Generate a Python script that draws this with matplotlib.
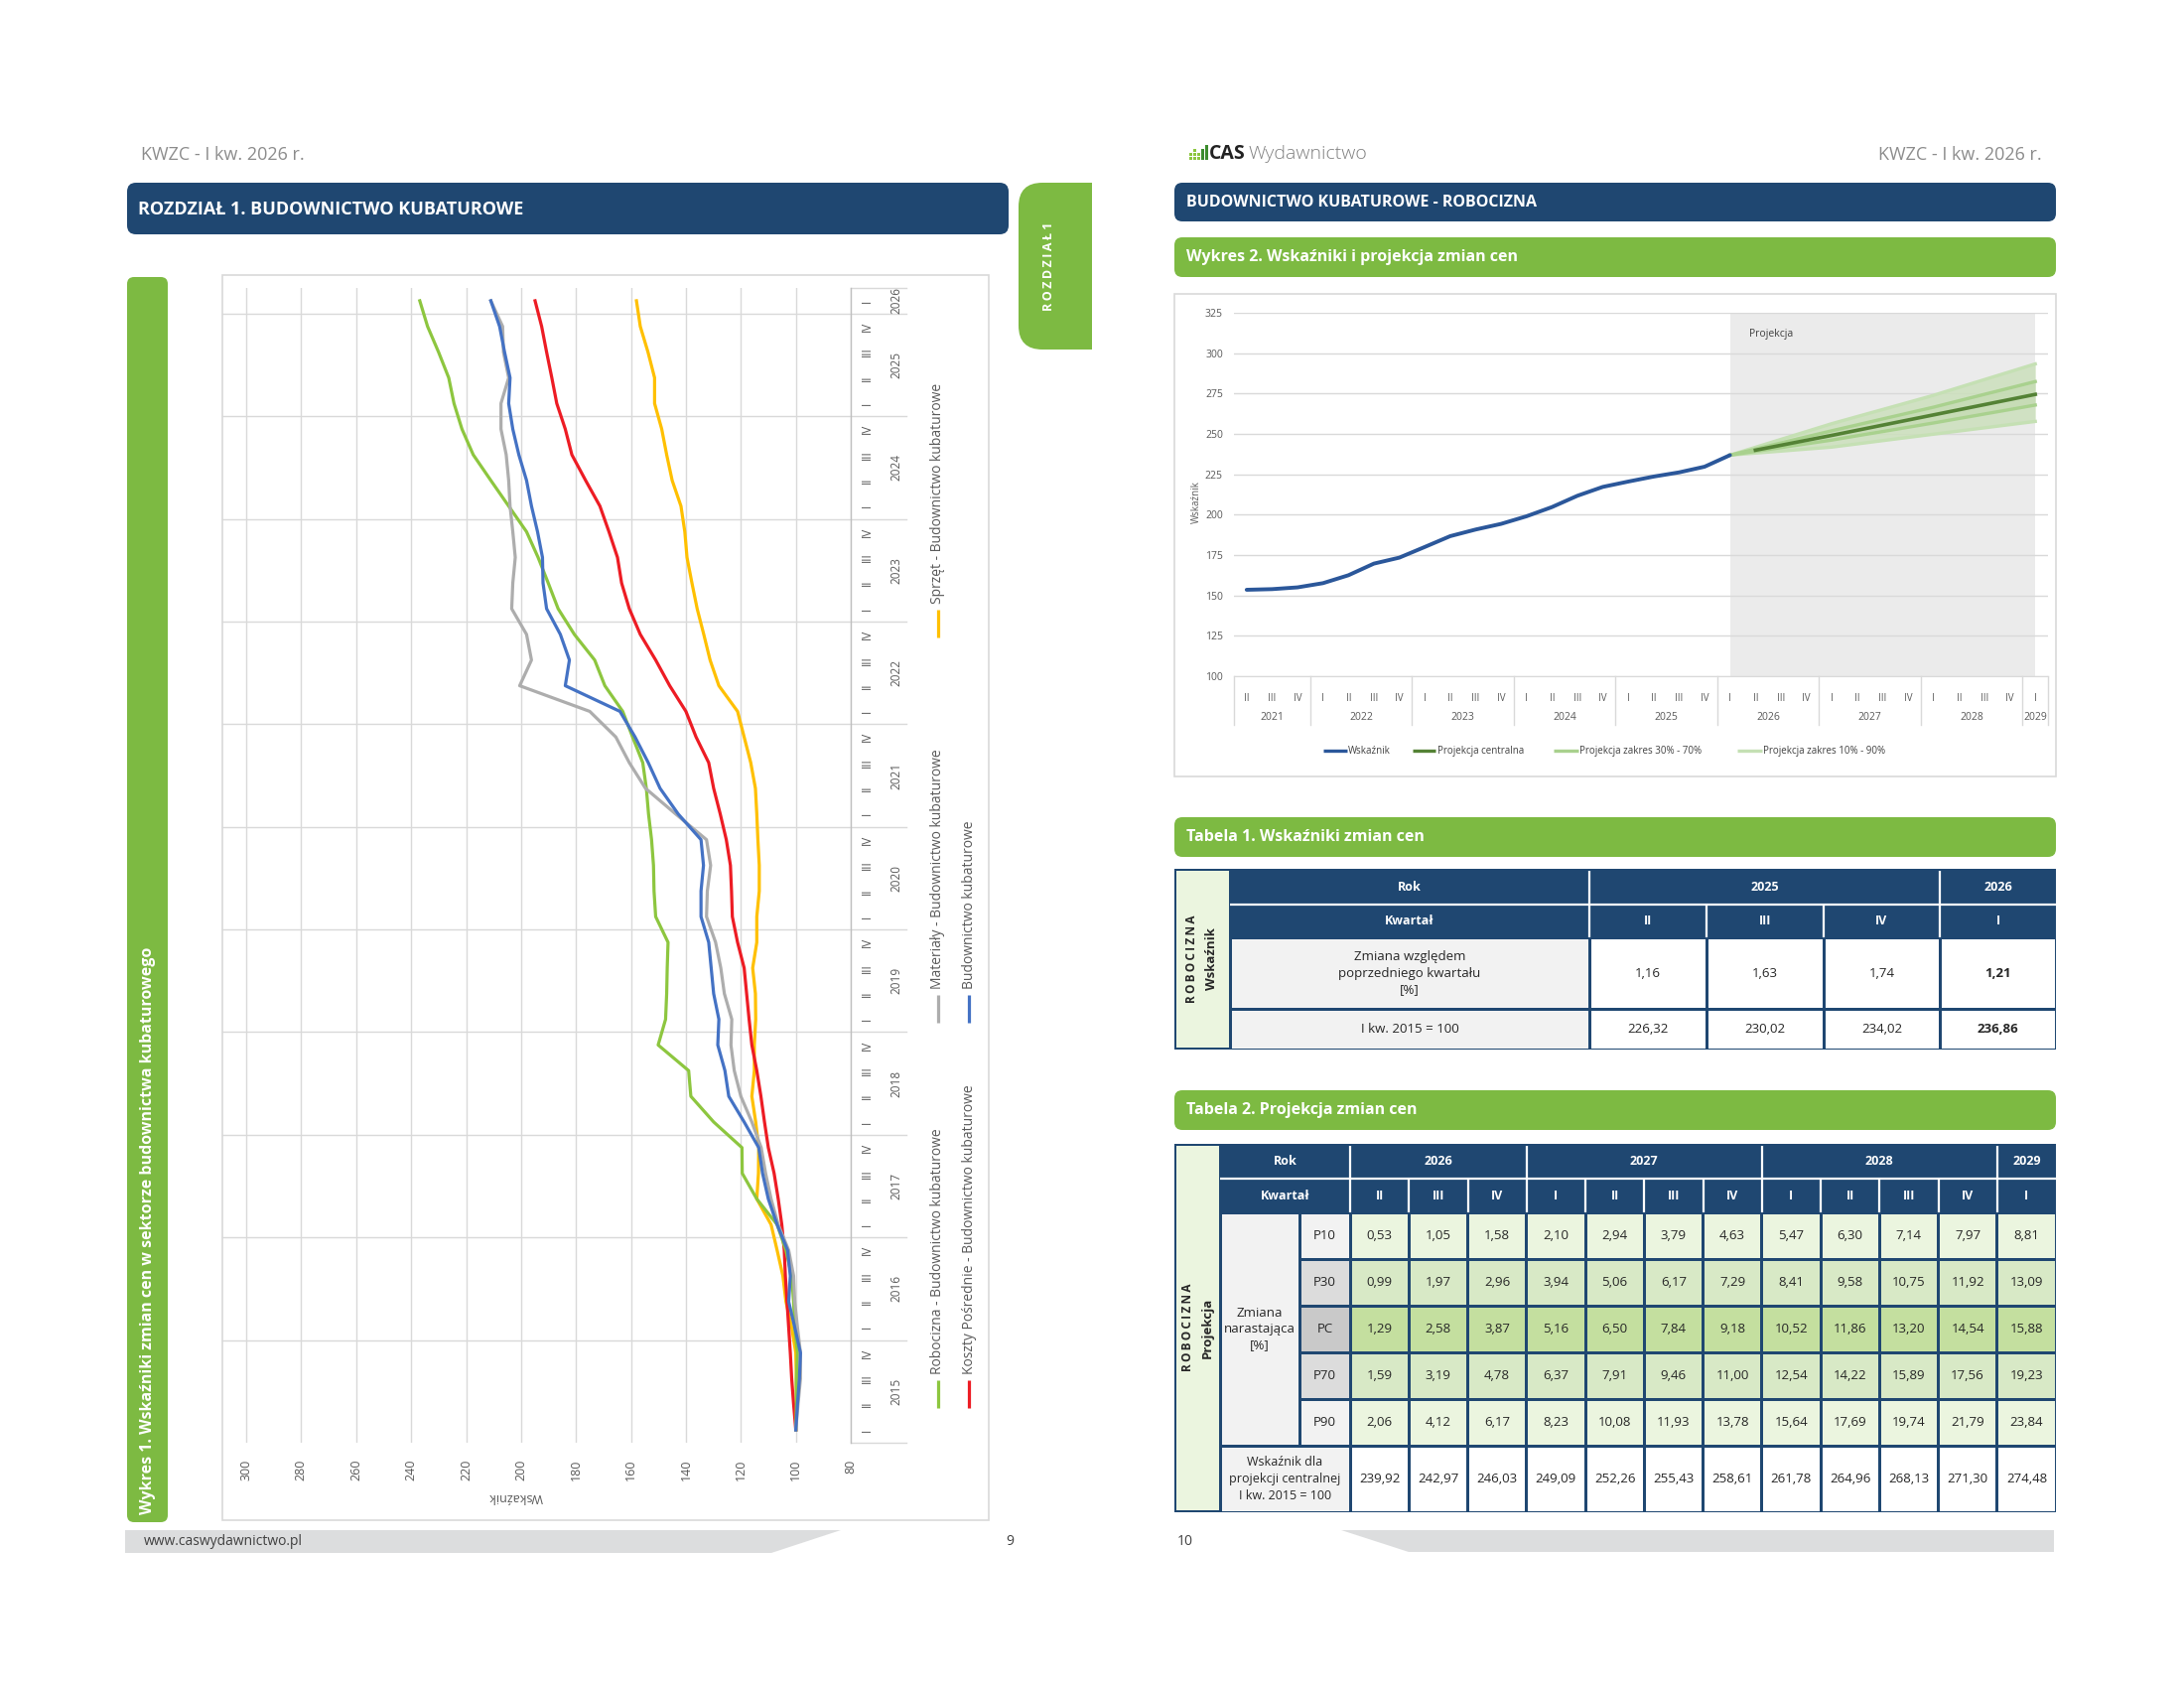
import numpy as np
import matplotlib
matplotlib.use('Agg')
import matplotlib.pyplot as plt
from matplotlib.patches import Rectangle, Polygon, FancyBboxPatch

plt.rcParams['font.family'] = ['Open Sans', 'DejaVu Sans']

# ======================= DATA =======================
# Wykres 1 (left page) - quarterly indices, I kw. 2015 = 100
left_quarters = ['I', 'II', 'III', 'IV'] * 11 + ['I']
left_years = [2015, 2016, 2017, 2018, 2019, 2020, 2021, 2022, 2023, 2024, 2025, 2026]

robocizna = [100.0, 99.8, 99.8, 99.4, 100.4, 100.8, 101.5, 103.6, 106.8, 114.2, 119.5, 119.6,
             129.9, 138.2, 139.0, 150.1, 147.4, 147.0, 146.8, 146.5, 151.0, 151.6, 151.8, 152.5,
             153.6, 154.4, 155.7, 159.4, 163.0, 169.5, 173.2, 180.6, 186.5, 190.1, 193.8, 198.0,
             204.5, 211.0, 217.4, 221.5, 224.4, 226.32, 230.02, 234.02, 236.86]
koszty = [100.0, 100.8, 101.5, 102.0, 102.6, 103.2, 103.8, 104.2, 105.1, 106.4, 107.9, 110.0,
          111.4, 112.7, 114.2, 116.0, 117.0, 117.9, 118.8, 121.2, 123.1, 123.4, 123.8, 125.3,
          127.5, 129.9, 131.7, 136.3, 140.0, 145.9, 151.0, 156.6, 160.6, 163.4, 164.9, 168.0,
          171.3, 176.5, 181.5, 183.9, 187.0, 188.8, 190.7, 192.5, 194.9]
materialy = [100.0, 99.2, 98.3, 98.3, 99.4, 100.4, 100.8, 102.6, 106.4, 109.0, 111.0, 112.6,
             116.0, 120.0, 122.4, 123.6, 123.3, 126.0, 127.3, 129.2, 132.5, 132.2, 131.0, 132.5,
             143.7, 154.7, 160.6, 165.5, 175.0, 200.5, 196.2, 198.0, 203.4, 203.0, 202.1, 203.0,
             204.0, 204.5, 205.4, 207.3, 207.3, 204.5, 206.4, 206.7, 211.0]
budownictwo = [100.0, 99.4, 98.7, 98.3, 100.4, 102.6, 102.0, 103.0, 106.8, 110.0, 112.1, 113.5,
               118.8, 124.4, 125.8, 128.4, 128.0, 129.9, 130.8, 131.7, 134.5, 134.5, 133.6, 134.5,
               142.8, 149.4, 153.7, 158.5, 164.0, 183.9, 182.4, 185.7, 190.7, 192.0, 192.2, 194.0,
               196.2, 198.0, 200.8, 203.0, 204.5, 204.0, 206.0, 207.8, 211.0]
sprzet = [100.0, 99.8, 99.8, 100.0, 101.5, 103.6, 104.7, 106.8, 109.0, 114.2, 113.6, 113.5,
          114.6, 116.0, 115.1, 115.1, 114.6, 114.7, 115.7, 114.2, 114.2, 113.3, 113.3, 113.8,
          114.2, 114.7, 116.4, 118.8, 121.2, 128.0, 131.2, 133.5, 135.9, 137.8, 139.6, 140.4,
          141.8, 145.0, 147.0, 148.8, 151.4, 151.4, 153.8, 156.6, 158.0]
left_values = range(80, 301, 20)

series_names = ['Robocizna - Budownictwo kubaturowe', 'Koszty Pośrednie - Budownictwo kubaturowe',
                'Materiały - Budownictwo kubaturowe', 'Budownictwo kubaturowe',
                'Sprzęt - Budownictwo kubaturowe']

# Wykres 2 (right page)
right_quarters = ['II', 'III', 'IV'] + ['I', 'II', 'III', 'IV'] * 7 + ['I']
right_years = [2021, 2022, 2023, 2024, 2025, 2026, 2027, 2028, 2029]
wskaznik = [153.5, 153.9, 155.0, 157.6, 162.5, 169.7, 173.4, 180.0, 186.7, 190.8, 194.3,
            199.0, 204.7, 211.7, 217.2, 220.5, 223.6, 226.2, 229.7, 236.86]
band_p10 = [236.86, 238.12, 239.35, 240.60, 241.83, 243.82, 245.84, 247.83, 249.82, 251.78, 253.77, 255.74, 257.73]
band_p30 = [236.86, 239.20, 241.53, 243.87, 246.19, 248.85, 251.47, 254.13, 256.78, 259.55, 262.32, 265.09, 267.87]
band_p70 = [236.86, 240.63, 244.42, 248.18, 251.95, 255.60, 259.27, 262.91, 266.56, 270.54, 274.50, 278.45, 282.41]
band_p90 = [236.86, 241.74, 246.62, 251.47, 256.35, 260.74, 265.12, 269.50, 273.91, 278.76, 283.62, 288.47, 293.33]
right_values = range(100, 326, 25)

# Tabela 1
t1_years = [('2025', 3), ('2026', 1)]
t1_quarters = ['II', 'III', 'IV', 'I']
t1_change = [1.16, 1.63, 1.74, 1.21]
t1_index = [226.32, 230.02, 234.02, 236.86]

# Tabela 2
t2_years = [('2026', 3), ('2027', 4), ('2028', 4), ('2029', 1)]
t2_quarters = ['II', 'III', 'IV', 'I', 'II', 'III', 'IV', 'I', 'II', 'III', 'IV', 'I']
t2_labels = ['P10', 'P30', 'PC', 'P70', 'P90']
t2_p10 = [0.53, 1.05, 1.58, 2.10, 2.94, 3.79, 4.63, 5.47, 6.30, 7.14, 7.97, 8.81]
t2_p30 = [0.99, 1.97, 2.96, 3.94, 5.06, 6.17, 7.29, 8.41, 9.58, 10.75, 11.92, 13.09]
t2_pc = [1.29, 2.58, 3.87, 5.16, 6.50, 7.84, 9.18, 10.52, 11.86, 13.20, 14.54, 15.88]
t2_p70 = [1.59, 3.19, 4.78, 6.37, 7.91, 9.46, 11.00, 12.54, 14.22, 15.89, 17.56, 19.23]
t2_p90 = [2.06, 4.12, 6.17, 8.23, 10.08, 11.93, 13.78, 15.64, 17.69, 19.74, 21.79, 23.84]
t2_central = [239.92, 242.97, 246.03, 249.09, 252.26, 255.43, 258.61, 261.78, 264.96, 268.13, 271.30, 274.48]

# ======================= STYLE =======================
W, H = 2200, 1700
NAVY = '#1F4771'
GREEN = '#7DBA42'
GRID = '#D9D9D9'
TXT = '#262626'
TICK = '#595959'
C_ROB, C_KOS, C_MAT, C_BUD, C_SPR = '#8DC63F', '#ED1C24', '#ADADAD', '#4472C4', '#FFC000'
C_WSK, C_CEN, C_3070, C_1090 = '#2B579A', '#548235', '#A9D18E', '#C5E0B4'
THIN = '\u2009'


def fmt(v):
    return f"{v:.2f}".replace('.', ',')


def spaced(s):
    return THIN.join(s)


fig = plt.figure(figsize=(22, 17), dpi=100)
ov = fig.add_axes([0, 0, 1, 1])
ov.set_xlim(0, W)
ov.set_ylim(H, 0)
ov.axis('off')


def rect(x0, y0, x1, y1, fc, ec='none', lw=0, z=1):
    ov.add_patch(Rectangle((x0, y0), x1 - x0, y1 - y0, facecolor=fc, edgecolor=ec, linewidth=lw, zorder=z))


def rbox(x0, y0, x1, y1, fc, r, z=1):
    ov.add_patch(FancyBboxPatch((x0, y0), x1 - x0, y1 - y0, boxstyle=f"round,pad=0,rounding_size={r}",
                                facecolor=fc, edgecolor='none', zorder=z))


def hline(x0, x1, y, c, lw, z=3):
    ov.plot([x0, x1], [y, y], color=c, lw=lw, zorder=z, solid_capstyle='butt')


def vline(x, y0, y1, c, lw, z=3):
    ov.plot([x, x], [y0, y1], color=c, lw=lw, zorder=z, solid_capstyle='butt')


# ======================= LEFT PAGE =======================
ov.text(142, 156, 'KWZC - I kw. 2026 r.', fontsize=13, color='#8C8C8C', va='center', ha='left')
rbox(128, 184, 1016, 236, NAVY, 9)
ov.text(139, 211, 'ROZDZIAŁ 1. BUDOWNICTWO KUBATUROWE', fontsize=13, color='white',
        fontweight='bold', va='center', ha='left', zorder=3)
# chapter tab
rbox(1026, 184, 1100, 352, GREEN, 24)
rect(1066, 184, 1100, 352, GREEN)
ov.text(1056, 268, spaced('ROZDZIAŁ') + ' ' + '1', fontsize=9, color='white', fontweight='bold',
        rotation=90, ha='center', va='center', zorder=3)
# vertical green title bar
rbox(128, 279, 169, 1533, GREEN, 7)
ov.text(149, 1525, 'Wykres 1. Wskaźniki zmian cen w sektorze budownictwa kubaturowego',
        fontsize=11.5, color='white', fontweight='bold', rotation=90, rotation_mode='anchor',
        ha='left', va='center', zorder=3)
# chart box
rect(224, 277, 996, 1531, 'white', ec=GRID, lw=1.2)

# left chart axes (rotated layout: values horizontal, time vertical)
L_LEFT, L_RIGHT, L_TOP, L_BOT = 224, 857, 290, 1453
ax1 = fig.add_axes([L_LEFT / W, 1 - L_BOT / H, (L_RIGHT - L_LEFT) / W, (L_BOT - L_TOP) / H])
ax1.set_facecolor('none')
ax1.set_xlim(308.7, 80)
ax1.set_ylim(-0.5, 44.5)
kq = np.arange(len(left_quarters))
for vals, col in [(sprzet, C_SPR), (koszty, C_KOS), (robocizna, C_ROB), (materialy, C_MAT), (budownictwo, C_BUD)]:
    ax1.plot(vals, kq, color=col, lw=2.3, solid_joinstyle='round', zorder=3)
ax1.set_xticks(list(left_values))
ax1.set_xticklabels([str(v) for v in left_values], rotation=90, fontsize=9, color=TICK)
ax1.tick_params(axis='x', length=0, pad=12)
ax1.grid(axis='x', color=GRID, lw=1)
ax1.set_axisbelow(True)
ax1.set_yticks(kq)
ax1.set_yticklabels(left_quarters, rotation=90, fontsize=8.5, color=TICK, va='center')
ax1.yaxis.tick_right()
ax1.tick_params(axis='y', length=0, pad=7)
for s in ['top', 'left', 'bottom']:
    ax1.spines[s].set_visible(False)
ax1.spines['right'].set_color('#BFBFBF')
ax1.spines['right'].set_linewidth(1)
ytr = ax1.get_yaxis_transform()
ext = (913 - L_LEFT) / (L_RIGHT - L_LEFT)
for b in np.arange(3.5, 44, 4):
    ax1.plot([0, ext], [b, b], transform=ytr, color=GRID, lw=1, clip_on=False, zorder=1)
for b in [-0.5, 44.5]:
    ax1.plot([1, ext], [b, b], transform=ytr, color=GRID, lw=1, clip_on=False, zorder=1)
yfrac = (903 - L_LEFT) / (L_RIGHT - L_LEFT)
for i, yr in enumerate(left_years):
    first = i * 4
    last = min(first + 3, len(left_quarters) - 1)
    ax1.text(yfrac, (first + last) / 2, str(yr), transform=ytr, rotation=90, ha='center',
             va='center', fontsize=8.5, color=TICK, clip_on=False)
ax1.text(202, (L_BOT - 1507) / (L_BOT - L_TOP), 'Wskaźnik', transform=ax1.get_xaxis_transform(),
         rotation=180, ha='center', va='center', fontsize=9, color=TICK)

# left legend (rotated)
leg = [(series_names[0], C_ROB, 945, 1384), (series_names[1], C_KOS, 976, 1384),
       (series_names[2], C_MAT, 945, 996), (series_names[3], C_BUD, 976, 996),
       (series_names[4], C_SPR, 945, 608)]
for name, col, lx, ly in leg:
    vline(lx, ly + 34, ly + 6, col, 2.3)
    ov.text(lx, ly, name, rotation=90, rotation_mode='anchor', ha='left', va='center',
            fontsize=10, color=TICK, zorder=3)

# footer left
ov.add_patch(Polygon([[126, 1541], [847, 1541], [777, 1564], [126, 1564]], closed=True,
                     facecolor='#DCDDDE', edgecolor='none'))
ov.text(145, 1552, 'www.caswydawnictwo.pl', fontsize=10, color='#404040', va='center', ha='left')
ov.text(1013, 1552, '9', fontsize=10, color='#404040', va='center', ha='left')

# ======================= RIGHT PAGE =======================
RX0, RX1 = 1183, 2071
TX = 1195
# logo
for (sx, sy) in [(1198, 154), (1198, 158), (1202, 150), (1202, 154), (1202, 158), (1206, 154), (1206, 158)]:
    rect(sx, sy, sx + 3, sy + 3, '#8DC63F')
rect(1209.5, 150, 1212.5, 161, '#3C8C2E')
rect(1213.5, 146, 1217, 161, '#3C8C2E')
ov.text(1218, 155, 'CAS', fontsize=14, fontweight='bold', color='#222222', va='center', ha='left')
ov.text(1258, 155, 'Wydawnictwo', fontsize=14, fontweight='light', color='#808080', va='center', ha='left')
ov.text(2057, 156, 'KWZC - I kw. 2026 r.', fontsize=13, color='#8C8C8C', va='center', ha='right')

rbox(RX0, 184, RX1, 223, NAVY, 8)
ov.text(TX, 204, 'BUDOWNICTWO KUBATUROWE - ROBOCIZNA', fontsize=11.5, color='white',
        fontweight='bold', va='center', ha='left', zorder=3)
rbox(RX0, 239, RX1, 279, GREEN, 8)
ov.text(TX, 259, 'Wykres 2. Wskaźniki i projekcja zmian cen', fontsize=11.5, color='white',
        fontweight='bold', va='center', ha='left', zorder=3)
rect(RX0, 296, RX1, 782, 'white', ec=GRID, lw=1.2)

# right chart
R_LEFT, R_RIGHT, R_TOP, R_BOT = 1243, 2063, 315, 681
ax2 = fig.add_axes([R_LEFT / W, 1 - R_BOT / H, (R_RIGHT - R_LEFT) / W, (R_BOT - R_TOP) / H])
ax2.set_facecolor('none')
ax2.set_xlim(-0.5, len(right_quarters) - 0.5)
ax2.set_ylim(100, 325)
ax2.axvspan(19, 31, color='#EBEBEB', zorder=0.2, lw=0)
ax2.set_yticks(list(right_values))
ax2.set_yticklabels([str(v) for v in right_values], fontsize=7.5, color=TICK)
ax2.tick_params(axis='y', length=0, pad=8)
ax2.grid(axis='y', color=GRID, lw=1)
ax2.set_axisbelow(True)
ax2.set_xticks(range(len(right_quarters)))
ax2.set_xticklabels(right_quarters, fontsize=7, color=TICK)
ax2.tick_params(axis='x', length=0, pad=12)
for s in ['top', 'left', 'right']:
    ax2.spines[s].set_visible(False)
ax2.spines['bottom'].set_color(GRID)
xtr = ax2.get_xaxis_transform()
yb = (R_BOT - 730) / (R_BOT - R_TOP)
for b in [-0.5, 2.5, 6.5, 10.5, 14.5, 18.5, 22.5, 26.5, 30.5, 31.5]:
    ax2.plot([b, b], [0, yb], transform=xtr, color=GRID, lw=1, clip_on=False)
ycen = [1, 4.5, 8.5, 12.5, 16.5, 20.5, 24.5, 28.5, 31]
for yc, yr in zip(ycen, right_years):
    ax2.text(yc, (R_BOT - 722) / (R_BOT - R_TOP), str(yr), transform=xtr, ha='center',
             va='center', fontsize=7.5, color=TICK)
ax2.set_ylabel('Wskaźnik', fontsize=7, color=TICK, labelpad=8)
ax2.text(19.75, 312, 'Projekcja', fontsize=7.5, color='#404040', ha='left', va='center')
cw = np.arange(len(wskaznik))
cp = np.arange(19, 19 + len(band_p10))
ax2.fill_between(cp, band_p10, band_p90, color='#CCE0BC', alpha=0.85, lw=0, zorder=2)
ax2.fill_between(cp, band_p30, band_p70, color='#BDD8A8', alpha=0.45, lw=0, zorder=2)
ax2.plot(cp, band_p10, color=C_1090, lw=2.4, zorder=3)
ax2.plot(cp, band_p90, color=C_1090, lw=2.4, zorder=3)
ax2.plot(cp, band_p30, color=C_3070, lw=2.4, zorder=4)
ax2.plot(cp, band_p70, color=C_3070, lw=2.4, zorder=4)
ax2.plot(np.arange(20, 20 + len(t2_central)), t2_central, color=C_CEN, lw=2.6, zorder=5)
ax2.plot(cw, wskaznik, color=C_WSK, lw=2.8, zorder=6, solid_capstyle='round')
ax2.yaxis.set_label_coords((1211 - R_LEFT) / (R_RIGHT - R_LEFT), 0.48)

# right chart legend
for (x0, x1, tx, lab, col) in [(1333, 1357, 1358, 'Wskaźnik', C_WSK),
                               (1423, 1446, 1448, 'Projekcja centralna', C_CEN),
                               (1565, 1590, 1591, 'Projekcja zakres 30% - 70%', C_3070),
                               (1750, 1775, 1776, 'Projekcja zakres 10% - 90%', C_1090)]:
    hline(x0, x1, 756, col, 2.4)
    ov.text(tx, 756, lab, fontsize=7, color='#404040', va='center', ha='left', zorder=3)

# ---------------- Tabela 1 ----------------
rbox(RX0, 823, RX1, 863, GREEN, 8)
ov.text(TX, 843, 'Tabela 1. Wskaźniki zmian cen', fontsize=11.5, color='white',
        fontweight='bold', va='center', ha='left', zorder=3)
T1X = [1183, 1239, 1601, 1719, 1837, 1954, 2071]
T1Y = [875, 911, 944, 1016, 1057]
rect(T1X[0], T1Y[0], T1X[-1], T1Y[-1], NAVY)
rect(T1X[0] + 2, T1Y[0] + 2, T1X[1] - 1.5, T1Y[-1] - 2, '#EBF5DF', z=2)
ov.text(1201, 966, spaced('ROBOCIZNA'), rotation=90, fontsize=8.5, fontweight='bold', color=TXT,
        ha='center', va='center', zorder=3)
ov.text(1221, 966, 'Wskaźnik', rotation=90, fontsize=9.5, fontweight='bold', color=TXT,
        ha='center', va='center', zorder=3)
hline(T1X[1], T1X[-1], T1Y[1], 'white', 1.6)
vline(T1X[2], T1Y[0] + 2, T1Y[2], 'white', 1.6)
vline(T1X[5], T1Y[0] + 2, T1Y[2], 'white', 1.6)
for x in T1X[3:5]:
    vline(x, T1Y[1], T1Y[2], 'white', 1.6)
hdr = dict(fontsize=9, fontweight='bold', color='white', ha='center', va='center', zorder=4)
ov.text((T1X[1] + T1X[2]) / 2, (T1Y[0] + T1Y[1]) / 2, 'Rok', **hdr)
ci = 2
for yr, n in t1_years:
    ov.text((T1X[ci] + T1X[ci + n]) / 2, (T1Y[0] + T1Y[1]) / 2, yr, **hdr)
    ci += n
ov.text((T1X[1] + T1X[2]) / 2, (T1Y[1] + T1Y[2]) / 2, 'Kwartał', **hdr)
for i, q in enumerate(t1_quarters):
    ov.text((T1X[2 + i] + T1X[3 + i]) / 2, (T1Y[1] + T1Y[2]) / 2, q, **hdr)
rows1 = [('Zmiana względem\npoprzedniego kwartału\n[%]', t1_change), ('I kw. 2015 = 100', t1_index)]
for r, (lab, vals) in enumerate(rows1):
    y0, y1 = T1Y[2 + r], T1Y[3 + r]
    rect(T1X[1] + 1.5, y0 + 1.5, T1X[2] - 1.5, y1 - 1.5, '#F2F2F2', z=2)
    ov.text((T1X[1] + T1X[2]) / 2, (y0 + y1) / 2, lab, fontsize=9.5, color=TXT, ha='center',
            va='center', linespacing=1.35, zorder=3)
    for i, v in enumerate(vals):
        rect(T1X[2 + i] + 1.5, y0 + 1.5, T1X[3 + i] - 1.5, y1 - 1.5, 'white', z=2)
        ov.text((T1X[2 + i] + T1X[3 + i]) / 2, (y0 + y1) / 2, fmt(v), fontsize=9.5, color=TXT,
                ha='center', va='center', zorder=3,
                fontweight='bold' if i == len(vals) - 1 else 'normal')

# ---------------- Tabela 2 ----------------
rbox(RX0, 1098, RX1, 1138, GREEN, 8)
ov.text(TX, 1118, 'Tabela 2. Projekcja zmian cen', fontsize=11.5, color='white',
        fontweight='bold', va='center', ha='left', zorder=3)
T2_BAND, T2_LAB, T2_P, T2_R = 1229, 1309, 1360, RX1
ncol = len(t2_quarters)
T2C = [T2_P + (T2_R - T2_P) * i / ncol for i in range(ncol + 1)]
T2Y = [1152, 1187, 1221, 1268, 1315, 1362, 1409, 1456, 1523]
rect(RX0, T2Y[0], T2_R, T2Y[-1], NAVY)
rect(RX0 + 2, T2Y[0] + 2, T2_BAND - 1.5, T2Y[-1] - 2, '#EBF5DF', z=2)
ov.text(1197, 1337, spaced('ROBOCIZNA'), rotation=90, fontsize=8.5, fontweight='bold', color=TXT,
        ha='center', va='center', zorder=3)
ov.text(1216, 1337, 'Projekcja', rotation=90, fontsize=9.5, fontweight='bold', color=TXT,
        ha='center', va='center', zorder=3)
hline(T2_BAND, T2_R, T2Y[1], 'white', 1.6)
ci = 0
for yr, n in t2_years:
    vline(T2C[ci], T2Y[0] + 2, T2Y[1], 'white', 1.6)
    ov.text((T2C[ci] + T2C[ci + n]) / 2, (T2Y[0] + T2Y[1]) / 2, yr, **hdr)
    ci += n
for i, q in enumerate(t2_quarters):
    vline(T2C[i], T2Y[1], T2Y[2], 'white', 1.6)
    ov.text((T2C[i] + T2C[i + 1]) / 2, (T2Y[1] + T2Y[2]) / 2, q, **hdr)
ov.text((T2_BAND + T2_P) / 2, (T2Y[0] + T2Y[1]) / 2, 'Rok', **hdr)
ov.text((T2_BAND + T2_P) / 2, (T2Y[1] + T2Y[2]) / 2, 'Kwartał', **hdr)
rect(T2_BAND + 1.5, T2Y[2] + 1.5, T2_LAB - 1.5, T2Y[7] - 1.5, '#F2F2F2', z=2)
ov.text((T2_BAND + T2_LAB) / 2, (T2Y[2] + T2Y[7]) / 2, 'Zmiana\nnarastająca\n[%]', fontsize=9.5,
        color=TXT, ha='center', va='center', linespacing=1.35, zorder=3)
lab_fill = ['#F2F2F2', '#DCDCDC', '#C9C9C9', '#DCDCDC', '#F2F2F2']
dat_fill = ['#EBF5DF', '#D8E9C6', '#C4DF9F', '#D8E9C6', '#EBF5DF']
for r, (lab, vals) in enumerate(zip(t2_labels, [t2_p10, t2_p30, t2_pc, t2_p70, t2_p90])):
    y0, y1 = T2Y[2 + r], T2Y[3 + r]
    rect(T2_LAB + 1.5, y0 + 1.5, T2_P - 1.5, y1 - 1.5, lab_fill[r], z=2)
    ov.text((T2_LAB + T2_P) / 2, (y0 + y1) / 2, lab, fontsize=9.5, color=TXT, ha='center',
            va='center', zorder=3)
    for i, v in enumerate(vals):
        rect(T2C[i] + 1.5, y0 + 1.5, T2C[i + 1] - 1.5, y1 - 1.5, dat_fill[r], z=2)
        ov.text((T2C[i] + T2C[i + 1]) / 2, (y0 + y1) / 2, fmt(v), fontsize=9.5, color=TXT,
                ha='center', va='center', zorder=3)
y0, y1 = T2Y[7], T2Y[8]
rect(T2_BAND + 1.5, y0 + 1.5, T2_P - 1.5, y1 - 1.5, '#F2F2F2', z=2)
ov.text((T2_BAND + T2_P) / 2, (y0 + y1) / 2, 'Wskaźnik dla\nprojekcji centralnej\nI kw. 2015 = 100',
        fontsize=9, color=TXT, ha='center', va='center', linespacing=1.35, zorder=3)
for i, v in enumerate(t2_central):
    rect(T2C[i] + 1.5, y0 + 1.5, T2C[i + 1] - 1.5, y1 - 1.5, 'white', z=2)
    ov.text((T2C[i] + T2C[i + 1]) / 2, (y0 + y1) / 2, fmt(v), fontsize=9.5, color=TXT,
            ha='center', va='center', zorder=3)

# footer right
ov.add_patch(Polygon([[1351, 1541], [2069, 1541], [2069, 1563], [1419, 1563]], closed=True,
                     facecolor='#DCDDDE', edgecolor='none'))
ov.text(1186, 1552, '10', fontsize=10, color='#404040', va='center', ha='left')

fig.savefig('out.png', dpi=100)
